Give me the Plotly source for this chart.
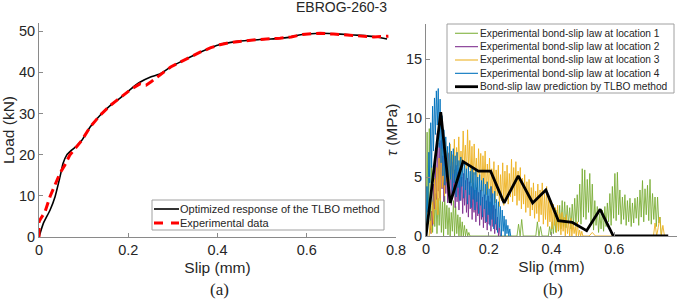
import numpy as np
import plotly.graph_objects as go

W, H = 685, 301

# ---------------- (a) load-slip data ----------------
slip_fit = [0, 0.0097, 0.0246, 0.036, 0.047, 0.054, 0.062, 0.073, 0.084, 0.096, 0.115, 0.137,
            0.16, 0.181, 0.205, 0.226, 0.25, 0.271, 0.295, 0.316, 0.34, 0.361, 0.385, 0.405,
            0.43, 0.45, 0.475, 0.495, 0.52, 0.54, 0.56, 0.575, 0.59, 0.61, 0.63, 0.66, 0.69,
            0.72, 0.75, 0.78]
load_fit = [0, 3.3, 6.5, 9.8, 14.6, 17.9, 19.9, 21.1, 22.1, 23.5, 26.8, 29.6,
            32.0, 33.7, 35.9, 37.6, 38.9, 39.6, 41.3, 42.5, 43.8, 44.9, 46.0, 46.8,
            47.3, 47.6, 47.8, 48.0, 48.1, 48.3, 48.5, 48.9, 49.2, 49.4, 49.5, 49.4, 49.2,
            49.0, 48.7, 48.1]

slip_exp = [0, 0.0, 0.003, 0.0134, 0.0246, 0.036, 0.047, 0.058, 0.069, 0.084, 0.096, 0.115,
            0.137, 0.16, 0.181, 0.205, 0.226, 0.24, 0.252, 0.271, 0.295, 0.316, 0.34, 0.361,
            0.385, 0.405, 0.43, 0.45, 0.475, 0.495, 0.52, 0.54, 0.565, 0.59, 0.61, 0.63, 0.66,
            0.69, 0.72, 0.75, 0.783]
load_exp = [0, 3.7, 4.3, 6.1, 9.8, 12.6, 15.5, 17.5, 19.9, 21.9, 23.5, 26.8,
            29.6, 32.0, 33.7, 35.8, 37.2, 36.9, 37.8, 39.4, 41.3, 42.5, 43.8, 44.9,
            46.0, 46.7, 47.3, 47.6, 47.8, 48.0, 48.1, 48.3, 48.6, 49.2, 49.4, 49.5, 49.3,
            49.1, 48.9, 48.6, 48.8]

# ---------------- (b) bond-slip data ----------------
# location 4 (blue): uniform slip samples from 0 to 0.27
tau_loc4 = [0.3, 4.2, 2.0, 7.1, 4.5, 9.6, 5.8, 11.0, 7.2, 11.7,
            8.6, 12.3, 9.4, 12.5, 7.5, 11.6, 6.2, 10.2, 5.1, 9.0,
            4.3, 8.4, 5.6, 7.6, 3.7, 7.9, 4.8, 7.2, 3.4, 7.4,
            4.5, 6.8, 3.3, 7.1, 4.1, 6.4, 3.0, 6.7, 4.2, 6.1,
            3.2, 6.3, 3.9, 5.7, 2.7, 6.0, 3.5, 5.5, 2.4, 5.9,
            3.1, 5.4, 2.2, 5.6, 2.9, 5.0, 1.9, 5.2, 2.6, 4.7,
            1.6, 4.9, 2.3, 4.4, 1.2, 4.6, 1.8, 4.0, 0.9, 4.2,
            1.4, 3.6, 0.6, 3.8, 1.0, 3.1, 0.3, 2.9, 0.7, 2.5,
            0.0, 2.2, 0.4, 1.7, 0.0, 1.4, 0.2, 0.9, 0.0, 0.6,
            0.0]
slip_loc4 = np.linspace(0.0, 0.27, len(tau_loc4))

# location 2 (purple): uniform slip samples from 0.015 to 0.237
tau_loc2 = [0.2, 2.1, 0.9, 4.4, 2.3, 6.2, 3.1, 8.7, 3.8, 7.9,
            3.2, 8.1, 4.0, 6.8, 2.9, 7.4, 3.6, 6.5, 2.8, 7.0,
            3.3, 5.9, 2.6, 6.3, 3.5, 5.6, 2.4, 6.0, 2.9, 5.4,
            2.2, 5.5, 3.0, 5.0, 1.9, 5.3, 2.6, 4.7, 2.0, 4.9,
            1.6, 4.6, 2.3, 4.2, 1.4, 4.5, 2.0, 3.9, 1.2, 4.1,
            1.7, 3.7, 0.9, 3.9, 1.4, 3.3, 0.7, 3.5, 1.1, 3.0,
            0.5, 3.4, 1.0, 2.9, 0.4, 4.2, 0.8, 2.6, 0.2, 2.3,
            0.5, 1.6, 0.0, 0.7, 0.0]
slip_loc2 = np.linspace(0.015, 0.237, len(tau_loc2))

# location 3 (yellow): uniform slip samples 0.01-0.50, then a sparse tail
tau_loc3_main = [0.0, 1.3, 0.2, 2.9, 1.0, 4.9, 2.2, 5.8, 1.8, 6.6,
                 3.0, 7.4, 4.1, 5.9, 3.4, 8.0, 4.6, 7.1, 3.9, 7.8,
                 4.8, 6.9, 5.3, 8.2, 4.6, 7.5, 5.9, 8.4, 5.0, 7.2,
                 5.4, 8.9, 6.1, 7.7, 4.8, 9.0, 5.6, 8.1, 4.5, 7.6,
                 4.1, 7.8, 5.2, 6.6, 3.9, 7.4, 4.7, 7.0, 3.8, 6.8,
                 4.4, 7.2, 3.5, 6.1, 4.0, 6.6, 3.2, 5.7, 3.6, 6.3,
                 2.8, 5.6, 3.4, 6.0, 2.5, 5.2, 3.0, 6.2, 2.6, 5.5,
                 3.1, 6.0, 2.7, 5.3, 3.3, 6.5, 2.9, 5.8, 3.4, 6.3,
                 2.6, 5.5, 3.0, 5.8, 2.3, 4.9, 2.7, 5.2, 2.0, 4.6,
                 2.4, 4.8, 1.7, 4.1, 2.2, 4.5, 1.5, 3.8, 1.9, 4.4,
                 1.2, 3.9, 1.8, 4.5, 1.0, 3.6, 1.4, 4.2, 0.8, 3.4,
                 1.2, 3.0, 0.6, 2.7, 0.9, 2.4, 0.3, 2.6, 0.5, 1.9,
                 0.1, 2.0, 0.4, 1.6, 0.0, 1.8, 0.2, 1.3, 0.0, 1.5,
                 0.0, 1.1, 0.2, 0.8, 0.0, 1.2, 0.0, 0.5, 0.0, 0.4,
                 0.0]
slip_loc3_main = np.linspace(0.01, 0.50, len(tau_loc3_main))
slip_loc3_tail = [0.52, 0.53, 0.54, 0.60, 0.62, 0.725, 0.73, 0.735, 0.74, 0.745, 0.75, 0.755, 0.76, 0.77]
tau_loc3_tail = [0.0, 0.3, 0.0, 0.0, 0.0, 0.0, 1.1, 0.0, 0.7, 1.6, 0.0, 0.9, 0.0, 0.0]

# location 1 (green): early band, quiet middle, late band
tau_loc1_a = [0, 8.8, 1.0, 9.1, 0.5, 6.0, 0.3, 4.2, 0.8, 3.6, 0.2, 3.2, 0.9, 3.8, 0.3,
              2.9, 0.0, 3.4, 0.6, 2.6, 0.1, 2.4, 0.0, 2.0, 0.4, 3.0, 0.0, 2.5, 0.2, 1.8,
              0.0, 1.6, 0.0, 1.2, 0.0, 0.9, 0.0, 0.6, 0.0, 0.3, 0.0]
slip_loc1_a = np.linspace(0.0, 0.14, len(tau_loc1_a))
slip_loc1_b = [0.20, 0.25, 0.29, 0.295, 0.30, 0.305, 0.31, 0.35, 0.355, 0.36, 0.365, 0.37, 0.385]
tau_loc1_b = [0.0, 0.0, 0.0, 1.0, 0.0, 1.4, 0.0, 0.0, 1.2, 0.0, 0.8, 0.0, 0.0]
tau_loc1_c = [0.0, 0.8, 0.1, 1.2, 0.2, 1.8, 0.3, 2.2, 0.4, 2.6, 0.6, 3.0, 0.8, 2.9, 0.7,
              2.6, 1.0, 2.4, 0.6, 2.7, 0.9, 3.2, 0.8, 3.5, 1.2, 4.4, 1.0, 5.7, 1.6, 5.6,
              1.4, 4.8, 2.0, 5.3, 1.1, 4.4, 0.5, 3.0, 0.9, 2.5, 0.3, 1.9, 0.6, 2.2, 0.4,
              2.5, 0.8, 2.8, 1.2, 3.6, 0.9, 4.2, 1.5, 5.3, 1.3, 5.4, 1.8, 3.9, 1.0, 3.3,
              1.4, 3.5, 0.9, 3.0, 1.2, 3.2, 0.8, 2.8, 1.1, 3.2, 1.5, 3.3, 0.9, 3.9, 1.6,
              4.7, 1.2, 4.0, 1.8, 4.3, 1.3, 4.8, 1.0, 3.6, 1.4, 3.3, 0.8, 3.3, 1.1, 1.6, 0.0]
slip_loc1_c = np.linspace(0.39, 0.75, len(tau_loc1_c))

slip_loc1 = list(slip_loc1_a) + slip_loc1_b + list(slip_loc1_c)
tau_loc1 = tau_loc1_a + tau_loc1_b + tau_loc1_c
slip_loc3 = list(slip_loc3_main) + slip_loc3_tail
tau_loc3 = tau_loc3_main + tau_loc3_tail

slip_tlbo = [0, 0.047, 0.077, 0.118, 0.167, 0.206, 0.249, 0.294, 0.34, 0.382, 0.422, 0.466,
             0.512, 0.555, 0.597, 0.772]
tau_tlbo = [0, 10.5, 2.8, 6.3, 5.5, 5.5, 2.8, 5.1, 2.8, 3.9, 1.3, 1.16, 0.45, 2.26, 0, 0]

names_a = ["Optimized response of the TLBO method", "Experimental data"]
names_b = ["Experimental bond-slip law at location 1", "Experimental bond-slip law at location 2",
           "Experimental bond-slip law at location 3", "Experimental bond-slip law at location 4",
           "Bond-slip law prediction by TLBO method"]
colors_b = ["rgba(119,172,48,0.85)", "rgba(126,47,142,0.9)", "rgba(237,177,32,0.9)",
            "rgba(0,114,189,0.9)", "#000000"]

FONT = "Liberation Sans, Arial, sans-serif"
SERIF = "Liberation Serif, Times New Roman, serif"
AX = "#8a8a8a"
TXT = "#262626"

fig = go.Figure()
fig.add_trace(go.Scatter(x=slip_fit, y=load_fit, mode="lines", name=names_a[0],
                         line=dict(color="black", width=1.6, shape="spline", smoothing=0.5),
                         xaxis="x", yaxis="y", showlegend=False))
fig.add_trace(go.Scatter(x=slip_exp, y=load_exp, mode="lines", name=names_a[1],
                         line=dict(color="#ff0000", width=3, dash="9px,5px"),
                         xaxis="x", yaxis="y", showlegend=False))

series_b = [(slip_loc1, tau_loc1), (slip_loc2, tau_loc2), (slip_loc3, tau_loc3), (slip_loc4, tau_loc4)]
for (sx, sy), nm, col in zip(series_b, names_b[:4], colors_b[:4]):
    fig.add_trace(go.Scatter(x=sx, y=sy, mode="lines", name=nm, line=dict(color=col, width=1),
                             xaxis="x2", yaxis="y2", showlegend=False))
fig.add_trace(go.Scatter(x=slip_tlbo, y=tau_tlbo, mode="lines", name=names_b[4],
                         line=dict(color="black", width=2.8), xaxis="x2", yaxis="y2",
                         showlegend=False))

def px_x(p):
    return p / W

def px_y(p):
    return 1 - p / H

common_axis = dict(showline=True, linecolor=AX, linewidth=1, ticks="inside", ticklen=4,
                   tickcolor=AX, showgrid=False, zeroline=False, mirror=False, automargin=False,
                   tickfont=dict(family=FONT, size=14.5, color=TXT))
xt = [0, 0.2, 0.4, 0.6, 0.8]
xtt = ["0", "0.2", "0.4", "0.6", "0.8"]

fig.update_layout(
    template="none",
    width=W, height=H, margin=dict(l=0, r=0, t=0, b=0, autoexpand=False),
    paper_bgcolor="white", plot_bgcolor="white", showlegend=False,
    font=dict(family=FONT, color=TXT),
    xaxis=dict(domain=[px_x(39), px_x(396)], range=[0, 0.8], anchor="y",
               tickvals=xt, ticktext=xtt,
               title=dict(text="Slip (mm)", font=dict(family=FONT, size=15.5, color=TXT), standoff=4),
               **common_axis),
    yaxis=dict(domain=[px_y(237), px_y(23)], range=[0, 52], anchor="x",
               tickvals=[0, 10, 20, 30, 40, 50],
               title=dict(text="Load (kN)", font=dict(family=FONT, size=15.5, color=TXT), standoff=2),
               **common_axis),
    xaxis2=dict(domain=[px_x(426), px_x(677)], range=[0, 0.8], anchor="y2",
                tickvals=xt, ticktext=xtt,
                title=dict(text="Slip (mm)", font=dict(family=FONT, size=15.5, color=TXT), standoff=4),
                **common_axis),
    yaxis2=dict(domain=[px_y(236), px_y(23.6)], range=[0, 18], anchor="x2",
                tickvals=[0, 5, 10, 15],
                title=dict(text="<i>τ</i> (MPa)", font=dict(family=FONT, size=15.5, color=TXT), standoff=4),
                **common_axis),
)

annotations = [
    dict(text="EBROG-260-3", x=px_x(341), y=px_y(7), xref="paper", yref="paper",
         showarrow=False, xanchor="center", yanchor="middle", font=dict(family=FONT, size=14, color=TXT)),
    dict(text="(a)", x=px_x(219), y=px_y(289), xref="paper", yref="paper",
         showarrow=False, xanchor="center", yanchor="middle", font=dict(family=SERIF, size=17, color=TXT)),
    dict(text="(b)", x=px_x(553), y=px_y(289), xref="paper", yref="paper",
         showarrow=False, xanchor="center", yanchor="middle", font=dict(family=SERIF, size=17, color=TXT)),
]
shapes = []

# legend for (a)
shapes.append(dict(type="rect", xref="paper", yref="paper", x0=px_x(152), x1=px_x(384),
                   y0=px_y(230), y1=px_y(200), line=dict(color="#a0a0a0", width=1),
                   fillcolor="white", layer="above"))
leg_a_styles = [dict(color="black", width=1.6), dict(color="#ff0000", width=3, dash="9px,8px")]
for i, (nm, st) in enumerate(zip(names_a, leg_a_styles)):
    yy = 209 + 14 * i
    shapes.append(dict(type="line", xref="paper", yref="paper", x0=px_x(154), x1=px_x(179),
                       y0=px_y(yy), y1=px_y(yy), line=st, layer="above"))
    annotations.append(dict(text=nm, x=px_x(178), y=px_y(yy), xref="paper", yref="paper",
                            showarrow=False, xanchor="left", yanchor="middle",
                            font=dict(family=FONT, size=11, color=TXT)))

# legend for (b)
shapes.append(dict(type="rect", xref="paper", yref="paper", x0=px_x(447), x1=px_x(674),
                   y0=px_y(93), y1=px_y(24), line=dict(color="#a0a0a0", width=1),
                   fillcolor="white", layer="above"))
for i, (nm, col) in enumerate(zip(names_b, colors_b)):
    yy = 33.3 + 13.35 * i
    shapes.append(dict(type="line", xref="paper", yref="paper", x0=px_x(455), x1=px_x(478),
                       y0=px_y(yy), y1=px_y(yy),
                       line=dict(color=col, width=2.8 if i == 4 else 1.2), layer="above"))
    annotations.append(dict(text=nm, x=px_x(478), y=px_y(yy), xref="paper", yref="paper",
                            showarrow=False, xanchor="left", yanchor="middle",
                            font=dict(family=FONT, size=10.2, color=TXT)))

fig.update_layout(annotations=annotations, shapes=shapes)
fig.write_html("out.html", config={"displayModeBar": False},
               post_script="document.body.style.margin='0';document.body.style.overflow='hidden';")
